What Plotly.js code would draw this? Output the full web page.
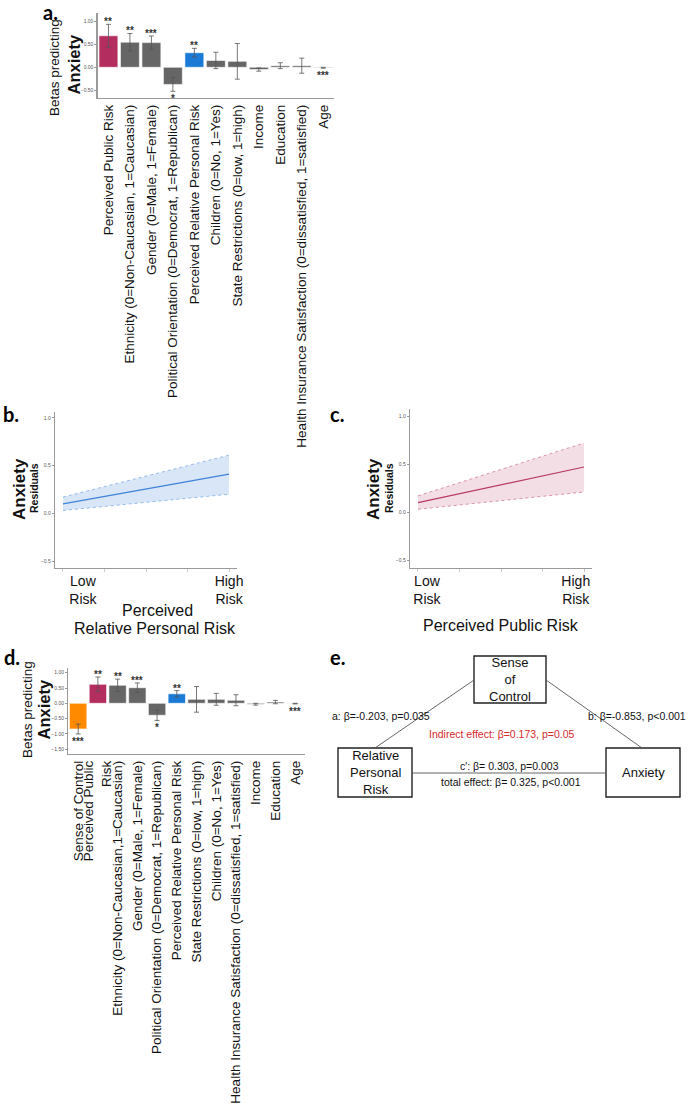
<!DOCTYPE html>
<html><head><meta charset="utf-8">
<script src="https://cdn.plot.ly/plotly-3.0.1.min.js"></script>
<style>html,body{margin:0;padding:0;background:#fff}</style>
</head><body><div id="chart" style="width:690px;height:1109px"></div>
<script>
// ---------- DATA ----------
const categoriesA = ["Perceived Public Risk","Ethnicity (0=Non-Caucasian, 1=Caucasian)","Gender (0=Male, 1=Female)","Political Orientation (0=Democrat, 1=Republican)","Perceived Relative Personal Risk","Children (0=No, 1=Yes)","State Restrictions (0=low, 1=high)","Income","Education","Health Insurance Satisfaction (0=dissatisfied, 1=satisfied)","Age"];
const betasA  = [0.69, 0.55, 0.54, -0.375, 0.32, 0.15, 0.13, -0.05, 0.035, 0.035, -0.01];
const errorsA = [0.25, 0.19, 0.145, 0.15, 0.095, 0.18, 0.39, 0.035, 0.065, 0.165, 0.01];
const starsA  = ["**","**","***","*","**","","","","","","***"];

const categoriesD = ["Sense of Control","Perceived Public<br>Risk","Ethnicity (0=Non-Caucasian,1=Caucasian)","Gender (0=Male, 1=Female)","Political Orientation (0=Democrat, 1=Republican)","Perceived Relative Personal Risk","State Restrictions (0=low, 1=high)","Children (0=No, 1=Yes)","Health Insurance Satisfaction (0=dissatisfied, 1=satisfied)","Income","Education","Age"];
const betasD  = [-0.84, 0.62, 0.59, 0.51, -0.39, 0.31, 0.13, 0.13, 0.10, -0.03, 0.04, -0.01];
const errorsD = [0.16, 0.24, 0.20, 0.155, 0.17, 0.105, 0.42, 0.195, 0.18, 0.03, 0.055, 0.01];
const starsD  = ["***","**","**","***","*","**","","","","","","***"];

const riskLevels    = [0, 1];
const fitPersonal   = [0.10, 0.41];
const lowerPersonal = [0.03, 0.20];
const upperPersonal = [0.17, 0.61];
const fitPublic     = [0.10, 0.47];
const lowerPublic   = [0.03, 0.21];
const upperPublic   = [0.17, 0.72];
const riskTickText  = ["Low<br>Risk", "High<br>Risk"];

// ---------- STYLE ----------
const W = 690, H = 1109;
const X = p => p / W;
const Y = p => 1 - p / H;
const FONT = "Liberation Sans, Arial, sans-serif";
const LETTER = "Lato, Open Sans, sans-serif";
const GREY = "#666666", MAGENTA = "#B32D5E", BLUE = "#1B7AD6", ORANGE = "#FF8A00";
const highlight = {"Perceived Public Risk": MAGENTA, "Perceived Public<br>Risk": MAGENTA,
                   "Perceived Relative Personal Risk": BLUE, "Sense of Control": ORANGE};
const colorFor = c => highlight[c] || GREY;

function barTrace(cats, vals, errs, xa, ya) {
  return {type: "bar", x: cats, y: vals, xaxis: xa, yaxis: ya,
    marker: {color: cats.map(colorFor), line: {color: "#ffffff", width: 0.6}},
    error_y: {type: "data", array: errs, visible: true, color: "#555", thickness: 0.8, width: 2.5},
    hoverinfo: "skip"};
}
function bandTraces(xs, lo, hi, fit, col, fillcol, xa, ya) {
  return [
    {x: xs, y: lo, mode: "lines", line: {color: col, width: 0.5, dash: "dot"}, xaxis: xa, yaxis: ya, hoverinfo: "skip"},
    {x: xs, y: hi, mode: "lines", fill: "tonexty", fillcolor: fillcol, line: {color: col, width: 0.5, dash: "dot"}, xaxis: xa, yaxis: ya, hoverinfo: "skip"},
    {x: xs, y: fit, mode: "lines", line: {color: col, width: 1.2}, xaxis: xa, yaxis: ya, hoverinfo: "skip"}
  ];
}
function starAnns(cats, vals, errs, stars, xr, yr) {
  const out = [];
  cats.forEach((c, i) => {
    if (!stars[i]) return;
    const up = vals[i] >= 0;
    out.push({x: c, y: up ? vals[i] + errs[i] : vals[i] - errs[i], xref: xr, yref: yr,
      text: "<b>" + stars[i] + "</b>", showarrow: false, yanchor: up ? "bottom" : "top", yshift: up ? -5 : 0,
      font: {family: FONT, size: 10, color: "#333"}});
  });
  return out;
}

const data = [
  barTrace(categoriesA, betasA, errorsA, "x", "y"),
  ...bandTraces(riskLevels, lowerPersonal, upperPersonal, fitPersonal, "#3F83D8", "rgba(63,131,216,0.2)", "x2", "y2"),
  ...bandTraces(riskLevels, lowerPublic, upperPublic, fitPublic, "#B83A66", "rgba(184,58,102,0.17)", "x3", "y3"),
  barTrace(categoriesD, betasD, errorsD, "x4", "y4")
];

const axisLine = {showline: true, linecolor: "#9a9a9a", linewidth: 1.3, showgrid: false, zeroline: false};
const yTickFont = {family: FONT, size: 5, color: "#555"};
const catFont = {family: FONT, size: 13.5, color: "#111"};

const layout = {
  width: W, height: H, margin: {l: 0, r: 0, t: 0, b: 0},
  paper_bgcolor: "#fff", plot_bgcolor: "#fff", showlegend: false, bargap: 0.12,
  xaxis: Object.assign({}, axisLine, {domain: [X(97.7), X(334)], anchor: "y", tickangle: -90, tickfont: catFont, ticks: ""}),
  yaxis: Object.assign({}, axisLine, {domain: [Y(98), Y(13)], anchor: "x", range: [-0.672, 1.188],
    tickvals: [-0.5, 0, 0.5, 1], tickformat: ".2f", ticks: "outside", ticklen: 2, tickcolor: "#999", tickfont: yTickFont}),
  xaxis2: Object.assign({}, axisLine, {domain: [X(55), X(237)], anchor: "y2", range: [-0.048, 1.048],
    tickvals: [0.12, 1.0], ticktext: riskTickText, ticks: "", tickfont: {family: FONT, size: 14, color: "#111"},
    minor: {ticks: "outside", ticklen: 3, tickcolor: "#ccc", tick0: 0, dtick: 0.25}}),
  yaxis2: Object.assign({}, axisLine, {domain: [Y(568), Y(412)], anchor: "x2", range: [-0.573, 1.062],
    tickvals: [-0.5, 0, 0.5, 1], tickformat: ".1f", ticks: "outside", ticklen: 2, tickcolor: "#999", tickfont: yTickFont}),
  xaxis3: Object.assign({}, axisLine, {domain: [X(410), X(591.7)], anchor: "y3", range: [-0.048, 1.046],
    tickvals: [0.054, 0.95], ticktext: riskTickText, ticks: "", tickfont: {family: FONT, size: 14, color: "#111"},
    minor: {ticks: "outside", ticklen: 3, tickcolor: "#ccc", tick0: 0, dtick: 0.25}}),
  yaxis3: Object.assign({}, axisLine, {domain: [Y(567.7), Y(409)], anchor: "x3", range: [-0.577, 1.073],
    tickvals: [-0.5, 0, 0.5, 1], tickformat: ".1f", ticks: "outside", ticklen: 2, tickcolor: "#999", tickfont: yTickFont}),
  xaxis4: Object.assign({}, axisLine, {domain: [X(68.3), X(305)], anchor: "y4", tickangle: -90, tickfont: catFont, ticks: ""}),
  yaxis4: Object.assign({}, axisLine, {domain: [Y(754), Y(668)], anchor: "x4", range: [-1.657, 1.154],
    tickvals: [-1.5, -1, -0.5, 0, 0.5, 1], tickformat: ".2f", ticks: "outside", ticklen: 2, tickcolor: "#999", tickfont: yTickFont}),
  shapes: [],
  annotations: []
};

const ann = layout.annotations;
function txt(x, y, text, size, opts) {
  ann.push(Object.assign({x: X(x), y: Y(y), xref: "paper", yref: "paper", text: text, showarrow: false,
    xanchor: "center", yanchor: "middle", font: {family: FONT, size: size, color: "#111"}}, opts || {}));
}
// panel letters
[["a.", 50, 12], ["b.", 11, 414], ["c.", 337, 414], ["d.", 12, 657], ["e.", 337, 657]].forEach(l =>
  txt(l[1], l[2], "<b>" + l[0] + "</b>", 20, {font: {family: LETTER, size: 20, color: "#000"}}));
// y titles
txt(55, 67, "Betas predicting", 13.5, {textangle: -90});
txt(73.5, 65, "<b>Anxiety</b>", 16.5, {textangle: -90});
txt(27, 710, "Betas predicting", 13.5, {textangle: -90});
txt(43.5, 710, "<b>Anxiety</b>", 16.5, {textangle: -90});
txt(19, 489, "<b>Anxiety</b>", 17, {textangle: -90});
txt(34, 488, "<b>Residuals</b>", 10.5, {textangle: -90});
txt(373, 489, "<b>Anxiety</b>", 17, {textangle: -90});
txt(389, 488, "<b>Residuals</b>", 10.5, {textangle: -90});
// x titles
txt(157, 610, "Perceived", 16);
txt(155, 628, "Relative Personal Risk", 16);
txt(501, 625, "Perceived Public Risk", 16);
// stars
ann.push(...starAnns(categoriesA, betasA, errorsA, starsA, "x", "y"));
ann.push(...starAnns(categoriesD, betasD, errorsD, starsD, "x4", "y4"));

// panel e: mediation diagram
const box = (x0, y0, x1, y1) => ({type: "rect", xref: "paper", yref: "paper", x0: X(x0), x1: X(x1), y0: Y(y1), y1: Y(y0), line: {color: "#222", width: 1.4}});
const seg = (x0, y0, x1, y1) => ({type: "line", xref: "paper", yref: "paper", x0: X(x0), x1: X(x1), y0: Y(y0), y1: Y(y1), line: {color: "#555", width: 0.9}});
layout.shapes.push(box(474, 656, 546, 703), box(338, 748, 412, 797), box(606, 748, 680, 797),
  seg(474, 680, 375, 748), seg(546, 680, 642, 748), seg(412, 773, 606, 773));
txt(510, 679, "Sense<br>of<br>Control", 13);
txt(375, 772, "Relative<br>Personal<br>Risk", 13);
txt(643, 772, "Anxiety", 13);
txt(381, 716, "a: β=-0.203, p=0.035", 10.5);
txt(637, 716, "b: β=-0.853, p<0.001", 10.5);
txt(502, 734, "Indirect effect: β=0.173, p=0.05", 10.5, {font: {family: FONT, size: 10.5, color: "#D42A2A"}});
txt(510, 766, "c′: β= 0.303, p=0.003", 10.5);
txt(511, 782, "total effect: β= 0.325, p<0.001", 10.5);

Plotly.newPlot("chart", data, layout, {staticPlot: true, displayModeBar: false});
</script></body></html>
